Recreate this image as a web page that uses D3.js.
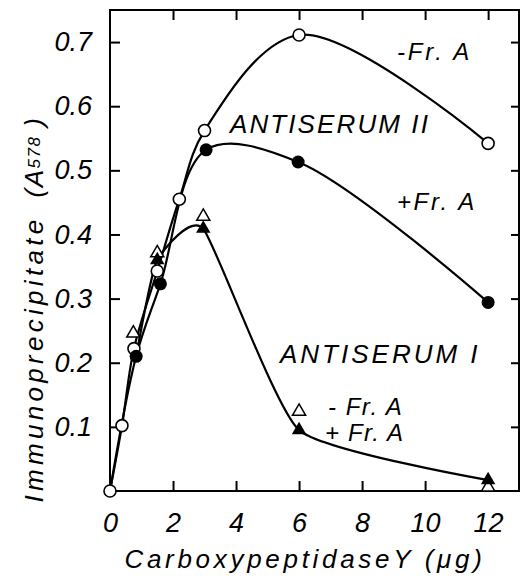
<!DOCTYPE html>
<html>
<head>
<meta charset="utf-8">
<script src="https://cdn.jsdelivr.net/npm/d3@7"></script>
<style>
  body { margin: 0; background: #fff; }
  svg text { font-family: "Liberation Sans", Arial, sans-serif; font-style: italic; fill: #000; }
</style>
</head>
<body>
<svg id="chart" width="529" height="576"></svg>
<script>
// values (x = carboxypeptidase Y in ug, y = A578)
const xTicks = [0, 2, 4, 6, 8, 10, 12];
const yTicks = [0.1, 0.2, 0.3, 0.4, 0.5, 0.6, 0.7];

// antiserum II, - Fr. A (open circles)
const openCircleX = [0, 0.38, 0.76, 1.5, 2.2, 3, 6, 12];
const openCircleY = [0, 0.102, 0.222, 0.343, 0.455, 0.562, 0.711, 0.542];
// antiserum II, + Fr. A (filled circles)
const fillCircleX = [0.83, 1.6, 3.05, 5.97, 12];
const fillCircleY = [0.21, 0.323, 0.532, 0.513, 0.294];
// antiserum I, - Fr. A (open triangles)
const openTriX = [0.74, 1.5, 2.96, 6, 12];
const openTriY = [0.246, 0.371, 0.428, 0.124, 0.006];
// antiserum I, + Fr. A (filled triangles)
const fillTriX = [1.5, 2.96, 6, 12];
const fillTriY = [0.36, 0.409, 0.095, 0.017];

const margin = { top: 10, right: 10, bottom: 85, left: 110 };
const width = 529 - margin.left - margin.right;
const height = 576 - margin.top - margin.bottom;

const svg = d3.select("#chart")
    .append("g")
    .attr("transform", `translate(${margin.left},${margin.top})`);

const x = d3.scaleLinear().domain([0, 12.98]).range([0, width]);
const y = d3.scaleLinear().domain([0, 0.75]).range([height, 0]);

const pts = (xs, ys) => xs.map((d, i) => ({ x: d, y: ys[i] }));
const openCircles = pts(openCircleX, openCircleY);
const fillCircles = pts(fillCircleX, fillCircleY);
const openTris = pts(openTriX, openTriY);
const fillTris = pts(fillTriX, fillTriY);

// hand drawn curves through the points
const smooth = d3.line()
    .x(d => x(d.x))
    .y(d => y(d.y))
    .curve(d3.curveCatmullRom.alpha(0.5));
const stiff = d3.line()
    .x(d => x(d.x))
    .y(d => y(d.y))
    .curve(d3.curveCardinal.tension(0.5));

const curves = [
    { pts: openCircles, gen: smooth },
    { pts: [openCircles[0], ...fillCircles], gen: smooth },
    { pts: [fillCircles[0], ...fillTris], gen: stiff }
];

svg.selectAll(".curve")
    .data(curves)
    .enter()
    .append("path")
    .attr("class", "curve")
    .attr("d", d => d.gen(d.pts))
    .attr("fill", "none")
    .attr("stroke", "#000")
    .attr("stroke-width", 2.2);

// axes, ticks pointing inwards on every side
const axBottom = svg.append("g")
    .attr("transform", `translate(0,${height})`)
    .call(d3.axisBottom(x).tickValues(xTicks).tickSizeInner(-10).tickSizeOuter(0).tickPadding(22));
const axLeft = svg.append("g")
    .call(d3.axisLeft(y).tickValues(yTicks).tickSizeInner(-10).tickSizeOuter(0).tickPadding(18)
        .tickFormat(d3.format(".1f")));
const axTop = svg.append("g")
    .call(d3.axisTop(x).tickValues(xTicks.slice(1)).tickSizeInner(-10).tickSizeOuter(0).tickFormat(""));
const axRight = svg.append("g")
    .attr("transform", `translate(${width},0)`)
    .call(d3.axisRight(y).tickValues(yTicks).tickSizeInner(-8).tickSizeOuter(0).tickFormat(""));

[axBottom, axLeft, axTop, axRight].forEach(g => {
    g.select(".domain").remove();
    g.selectAll("line").attr("stroke", "#000").attr("stroke-width", 2);
    g.selectAll("text").attr("font-size", 27).attr("font-family", null).attr("fill", "#000");
});

svg.append("rect")
    .attr("width", width)
    .attr("height", height)
    .attr("fill", "none")
    .attr("stroke", "#000")
    .attr("stroke-width", 2);

// markers
const sym = (type, size) => d3.symbol().type(type).size(size);

svg.selectAll(".ocirc")
    .data(openCircles)
    .enter()
    .append("circle")
    .attr("cx", d => x(d.x))
    .attr("cy", d => y(d.y))
    .attr("r", 6)
    .attr("fill", "#fff")
    .attr("stroke", "#000")
    .attr("stroke-width", 1.6);

svg.selectAll(".fcirc")
    .data(fillCircles)
    .enter()
    .append("circle")
    .attr("cx", d => x(d.x))
    .attr("cy", d => y(d.y))
    .attr("r", 6.5)
    .attr("fill", "#000");

svg.selectAll(".otri")
    .data(openTris)
    .enter()
    .append("path")
    .attr("d", sym(d3.symbolTriangle, 75))
    .attr("transform", d => `translate(${x(d.x)},${y(d.y)})`)
    .attr("fill", "#fff")
    .attr("stroke", "#000")
    .attr("stroke-width", 1.5);

svg.selectAll(".ftri")
    .data(fillTris)
    .enter()
    .append("path")
    .attr("d", sym(d3.symbolTriangle, 90))
    .attr("transform", d => `translate(${x(d.x)},${y(d.y)})`)
    .attr("fill", "#000");

// axis titles
const page = d3.select("#chart");
page.append("text")
    .attr("x", 305)
    .attr("y", 568)
    .attr("text-anchor", "middle")
    .attr("font-size", 26)
    .attr("letter-spacing", 3.7)
    .text("CarboxypeptidaseY (μg)");

page.append("text")
    .attr("transform", "translate(43,359) rotate(-90)")
    .attr("text-anchor", "middle")
    .attr("font-size", 26)
    .attr("letter-spacing", 4.3)
    .text("Immunoprecipitate");

const a578 = page.append("text")
    .attr("transform", "translate(43,157) rotate(-90)")
    .attr("text-anchor", "middle")
    .attr("font-size", 26)
    .attr("letter-spacing", 1.5);
a578.append("tspan").text("(A");
a578.append("tspan").attr("font-size", 17).attr("dy", -3).text("578");
a578.append("tspan").attr("dy", 3).text(" )");

// annotations
const notes = [
    { t: "-Fr. A", x: 397, y: 60, s: 24, ls: 2.8 },
    { t: "ANTISERUM II", x: 230, y: 133, s: 26, ls: 2.1 },
    { t: "+Fr. A", x: 397, y: 210, s: 24, ls: 2.6 },
    { t: "ANTISERUM I", x: 280, y: 363, s: 26, ls: 3 },
    { t: "- Fr. A", x: 328, y: 415, s: 24, ls: 1.5 },
    { t: "+ Fr. A", x: 325, y: 441, s: 24, ls: 1.2 }
];
page.selectAll(".note")
    .data(notes)
    .enter()
    .append("text")
    .attr("class", "note")
    .attr("x", d => d.x)
    .attr("y", d => d.y)
    .attr("font-size", d => d.s)
    .attr("letter-spacing", d => d.ls)
    .style("white-space", "pre")
    .text(d => d.t);
</script>
</body>
</html>
